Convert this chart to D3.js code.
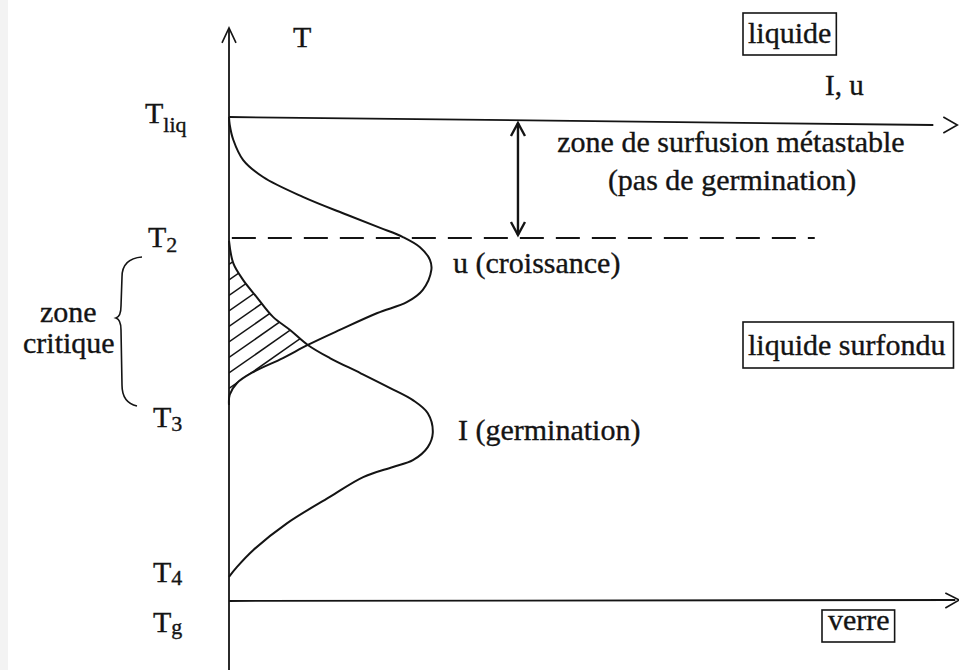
<!DOCTYPE html>
<html><head><meta charset="utf-8">
<script src="https://cdn.jsdelivr.net/npm/d3@7"></script>
<style>
body{margin:0;background:#fff}
svg{display:block}
text{font-family:"Liberation Serif","Times New Roman",serif;fill:#141414;stroke:#141414;stroke-width:0.35px}
</style>
</head><body>
<svg id="c" width="959" height="670"></svg>
<script>
// ---- data (arbitrary units) ----
const levelNames  = ["liq", "2", "3", "4", "g"];
const levelValues = [100, 75, 40.5, 5, 0];          // temperature levels (Tg = 0, Tliq = 100)

// u (croissance) : rate vs temperature
const uRate = [0, 0.1, 0.6, 2.0, 4.8, 10.4, 16.6, 21.3, 24.5, 26.9, 28.3, 28.5, 27.3, 25.1, 20.9, 15.6, 11.1, 7.6, 3.4, 1.1, 0.1, 0];
const uTemp = [100, 98.4, 95.3, 91.1, 87.6, 83.5, 79.8, 77.1, 75.2, 73.1, 70.5, 68.4, 64.3, 61.8, 59.5, 56.0, 52.9, 50.2, 47.3, 45.0, 42.6, 40.5];

// I (germination) : rate vs temperature
const iRate = [0, 0.6, 2.0, 3.9, 6.2, 8.6, 11.1, 14.2, 18.5, 22.7, 25.9, 28.0, 28.7, 28.0, 25.9, 23.1, 18.9, 14.2, 8.2, 3.4, 1.1, 0];
const iTemp = [74.4, 69.8, 66.3, 62.8, 58.7, 56.0, 52.9, 50.2, 47.1, 44.0, 41.5, 38.8, 34.7, 31.8, 29.1, 27.7, 25.6, 21.5, 16.1, 10.5, 7.0, 5.0];

const axisTitles   = ["T", "I, u"];
const phaseLabels  = ["liquide", "liquide surfondu", "verre"];
const curveLabels  = ["u (croissance)", "I (germination)"];
const zoneLines    = ["zone de surfusion métastable", "(pas de germination)"];
const criticalText = ["zone", "critique"];

// ---- layout / style ----
const W = 959, H = 670;
const ink = "#141414";
const svg = d3.select("#c");
const x = d3.scaleLinear().domain([0, 100]).range([229, 939]);
const y = d3.scaleLinear().domain([0, 100]).range([601, 117]);
const Tliq = levelValues[0], T2 = levelValues[1], T3 = levelValues[2], Tg = levelValues[4];

svg.append("rect").attr("width", W).attr("height", H).attr("fill", "#fff");
svg.append("rect").attr("width", 8).attr("height", H).attr("fill", "#f3f3f3");

const line = d3.line().x(d => x(d[0])).y(d => y(d[1])).curve(d3.curveCatmullRom.alpha(0.5));
const uPts = uRate.map((r, i) => [r, uTemp[i]]);
const iPts = iRate.map((r, i) => [r, iTemp[i]]);

// clip regions for hatching (inside u AND inside I)
const defs = svg.append("defs");
defs.append("clipPath").attr("id", "clipU").append("path").attr("d", line(uPts) + "Z");
defs.append("clipPath").attr("id", "clipI").append("path").attr("d", line(iPts) + "Z");

const hatchOuter = svg.append("g").attr("clip-path", "url(#clipU)");
const hatch = hatchOuter.append("g").attr("clip-path", "url(#clipI)");
const spacing = 15.5, slope = 0.7, hLen = 160;
for (let k = -2; k < 16; k++) {
  const y0 = y(T3) - 1 - k * spacing;
  hatch.append("line")
    .attr("x1", x(0)).attr("y1", y0)
    .attr("x2", x(0) + hLen).attr("y2", y0 - hLen * slope)
    .attr("stroke", ink).attr("stroke-width", 1.5);
}

// vertical axis with open arrow
const yTop = y(118.4);
svg.append("line").attr("x1", x(0)).attr("x2", x(0)).attr("y1", H).attr("y2", yTop)
  .attr("stroke", ink).attr("stroke-width", 1.8);
svg.append("path").attr("d", `M${x(0)-7},${yTop+15}L${x(0)},${yTop}L${x(0)+7},${yTop+15}`)
  .attr("fill", "none").attr("stroke", ink).attr("stroke-width", 1.6);

// Tliq horizontal line (slight scan skew) with arrow
const skew = 8;
const xl = x(99.2);
svg.append("line").attr("x1", x(0)).attr("y1", y(Tliq)).attr("x2", xl).attr("y2", y(Tliq) + skew)
  .attr("stroke", ink).attr("stroke-width", 1.8);
svg.append("path").attr("d", `M${xl+10},${y(Tliq)+skew-8}L${xl+24},${y(Tliq)+skew}L${xl+10},${y(Tliq)+skew+8}`)
  .attr("fill", "none").attr("stroke", ink).attr("stroke-width", 1.6);

// Tg horizontal line with arrow
const xg = x(102.3);
svg.append("line").attr("x1", x(0)).attr("y1", y(Tg)).attr("x2", xg).attr("y2", y(Tg) - 1)
  .attr("stroke", ink).attr("stroke-width", 1.8);
svg.append("path").attr("d", `M${xg-10},${y(Tg)-8}L${xg+4},${y(Tg)-1}L${xg-10},${y(Tg)+7}`)
  .attr("fill", "none").attr("stroke", ink).attr("stroke-width", 1.6);

// T2 dashed line
svg.append("line").attr("x1", x(0.4)).attr("x2", x(82.5)).attr("y1", y(T2)).attr("y2", y(T2))
  .attr("stroke", ink).attr("stroke-width", 1.8).attr("stroke-dasharray", "24 12");

// double arrow (metastable zone)
const xa = x(40.7), ya1 = y(Tliq) + 6, ya2 = y(T2) - 3;
svg.append("line").attr("x1", xa).attr("x2", xa).attr("y1", ya1).attr("y2", ya2)
  .attr("stroke", ink).attr("stroke-width", 2.4);
svg.append("path").attr("d", `M${xa-7},${ya1+13}L${xa},${ya1}L${xa+7},${ya1+13}`)
  .attr("fill", "none").attr("stroke", ink).attr("stroke-width", 2.4);
svg.append("path").attr("d", `M${xa-7},${ya2-13}L${xa},${ya2}L${xa+7},${ya2-13}`)
  .attr("fill", "none").attr("stroke", ink).attr("stroke-width", 2.4);

// curves
svg.append("path").attr("d", line(uPts)).attr("fill", "none").attr("stroke", ink).attr("stroke-width", 2);
svg.append("path").attr("d", line(iPts)).attr("fill", "none").attr("stroke", ink).attr("stroke-width", 2);

// brace (zone critique)
const bt = y(T2) + 19, bb = y(T3), bm = (bt + bb) / 2 - 13;
svg.append("path")
  .attr("d", `M142,${bt} C129,${bt+1} 122,${bt+8} 122,${bt+20} L121,${bm-12} C121,${bm-4} 119,${bm-1} 116,${bm} C119,${bm+1} 121,${bm+4} 121,${bm+12} L122,${bb-20} C122,${bb-8} 128,${bb-1} 137,${bb+1}`)
  .attr("fill", "none").attr("stroke", ink).attr("stroke-width", 1.6);

// level labels (T with subscript)
const lvlPos = [[145, 6, 9], [148, 9, 5], [153, 22, 4], [153, 5, 3], [153, 31, 2]];
levelNames.forEach((n, i) => {
  const t = svg.append("text").attr("x", lvlPos[i][0]).attr("y", y(levelValues[i]) + lvlPos[i][1])
    .attr("font-size", 30);
  t.append("tspan").text("T");
  t.append("tspan").attr("font-size", 22).attr("dy", lvlPos[i][2]).text(n);
});

// axis titles
svg.append("text").attr("x", 293).attr("y", 47).attr("font-size", 30).text(axisTitles[0]);
svg.append("text").attr("x", 825).attr("y", 95).attr("font-size", 29).text(axisTitles[1]);

// boxed phase labels
const boxes = [
  {tx: 748, by: 43,  pl: 5, pr: 5, pt: 30, pb: 12},
  {tx: 748, by: 355, pl: 5, pr: 8, pt: 33, pb: 13},
  {tx: 828, by: 630, pl: 6, pr: 5, pt: 20, pb: 12}
];
phaseLabels.forEach((s, i) => {
  const b = boxes[i];
  const t = svg.append("text").attr("x", b.tx).attr("y", b.by).attr("font-size", 30).text(s);
  const w = t.node().getComputedTextLength();
  svg.append("rect").attr("x", b.tx - b.pl).attr("y", b.by - b.pt)
    .attr("width", w + b.pl + b.pr).attr("height", b.pt + b.pb)
    .attr("fill", "none").attr("stroke", ink).attr("stroke-width", 1.6);
});

// zone text
svg.append("text").attr("x", 731).attr("y", 152).attr("text-anchor", "middle").attr("font-size", 30).text(zoneLines[0]);
svg.append("text").attr("x", 732).attr("y", 190).attr("text-anchor", "middle").attr("font-size", 30).text(zoneLines[1]);

// curve labels
svg.append("text").attr("x", 453).attr("y", 273).attr("font-size", 30).text(curveLabels[0]);
svg.append("text").attr("x", 458).attr("y", 440).attr("font-size", 30).text(curveLabels[1]);

// zone critique
svg.append("text").attr("x", 40).attr("y", 322).attr("font-size", 30).text(criticalText[0]);
svg.append("text").attr("x", 23).attr("y", 353).attr("font-size", 30).text(criticalText[1]);
</script>
</body></html>
